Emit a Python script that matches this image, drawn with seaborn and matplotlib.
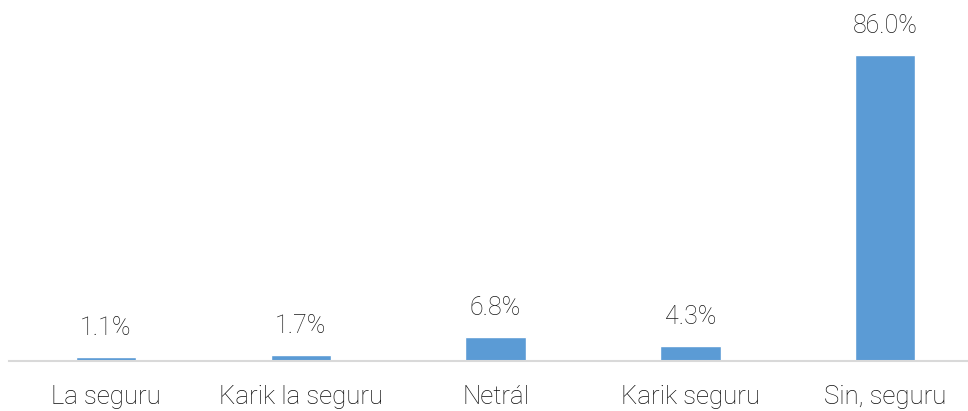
import matplotlib.pyplot as plt
import seaborn as sns
import pandas as pd

# survey answers and shares (%)
categories = ["La seguru", "Karik la seguru", "Netrál", "Karik seguru", "Sin, seguru"]
values = [1.1, 1.7, 6.8, 4.3, 86.0]

df = pd.DataFrame({"Answer": categories, "Share": values})

sns.set_style("white")
plt.rcParams["font.family"] = ["Roboto", "DejaVu Sans"]
plt.rcParams["font.weight"] = "light"

fig = plt.figure(figsize=(9.68, 4.11), dpi=100)
ax = fig.add_axes([8.6 / 968, 50 / 411, 974 / 968, 361 / 411])

sns.barplot(data=df, x="Answer", y="Share", color="#5B9BD5", width=0.31,
            saturation=1, ax=ax)

ax.set_ylim(0, 361 / 3.558)
ax.set_xlim(-0.5, 4.5)
ax.set_xlabel("")
ax.set_ylabel("")
ax.set_yticks([])
sns.despine(ax=ax, left=True, right=True, top=True)
ax.spines["bottom"].set_color("#D9D9D9")
ax.spines["bottom"].set_linewidth(1.5)
ax.tick_params(axis="x", length=0, pad=17, labelsize=18.5, labelcolor="#0d0d0d")
for t in ax.get_xticklabels():
    t.set_fontweight("light")

for c in ax.containers:
    ax.bar_label(c, labels=[f"{v:.1f}%" for v in values], padding=12,
                 fontsize=18, color="#1a1a1a", fontweight="light")

fig.savefig("out.png", dpi=100)
